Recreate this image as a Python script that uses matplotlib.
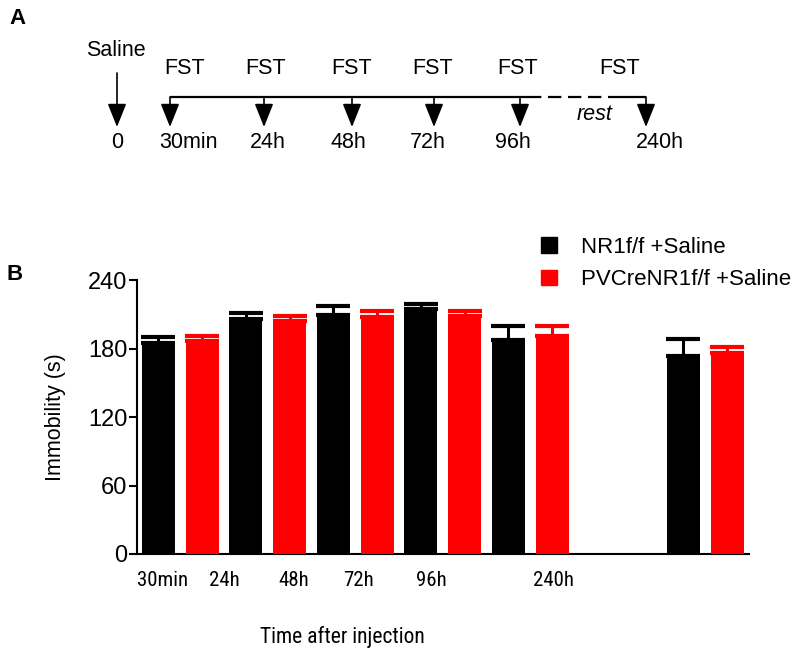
import matplotlib
matplotlib.use('Agg')
import matplotlib.pyplot as plt
from matplotlib.patches import Patch

plt.rcParams['font.family'] = ['Liberation Sans', 'DejaVu Sans']
narrow = ['Liberation Sans Narrow', 'Arial Narrow', 'Roboto Condensed', 'Liberation Sans']

# datos del panel B (segundos de inmovilidad, media y SEM)
timepoints = ['30min', '24h', '48h', '72h', '96h', '240h']
slot = [0, 1, 2, 3, 4, 6]
nr1_mean = [185.0, 205.5, 209.3, 214.3, 187.4, 173.6]
nr1_sem = [5.0, 5.3, 7.9, 4.7, 12.2, 14.9]
pv_mean = [186.8, 204.0, 207.5, 208.7, 190.9, 175.7]
pv_sem = [4.2, 4.4, 5.3, 3.8, 8.7, 5.8]
label_pos = [0.23, 0.94, 1.73, 2.48, 3.31, 4.71]
yticks = [0, 60, 120, 180, 240]

# esquema del panel A (posiciones en pixeles de la figura)
schema_labels = ['30min', '24h', '48h', '72h', '96h', '240h']
schema_arrow_x = [170, 264, 352, 434, 520, 646]
schema_fst_x = [185, 266, 352, 433, 518, 620]
schema_time_x = [188, 268, 348, 428, 513, 660]

W, H = 796, 655
fig = plt.figure(figsize=(W / 100, H / 100), dpi=100)

# capa de fondo en coordenadas de pixel para el esquema
ax0 = fig.add_axes([0, 0, 1, 1])
ax0.set_xlim(0, W)
ax0.set_ylim(H, 0)
ax0.axis('off')

arrow_kw = dict(arrowstyle='-|>,head_length=1.45,head_width=0.58', mutation_scale=10,
                lw=1.2, color='black', shrinkA=0, shrinkB=0)
fs_a = 15.5

ax0.text(116, 51, 'Saline', ha='center', va='center', fontsize=fs_a)
ax0.annotate('', xy=(117, 127), xytext=(117, 73), arrowprops=arrow_kw)
ax0.text(117, 143, '0', ha='center', va='center', fontsize=fs_a)

line_y = 97
ax0.plot([170, 528], [line_y, line_y], color='black', lw=1.6, solid_capstyle='butt')
ax0.plot([528, 617], [line_y, line_y], color='black', lw=1.6, dashes=(6, 3))
ax0.plot([617, 646], [line_y, line_y], color='black', lw=1.6, solid_capstyle='butt')

for x in schema_arrow_x:
    ax0.annotate('', xy=(x, 127), xytext=(x, line_y), arrowprops=arrow_kw)
for x in schema_fst_x:
    ax0.text(x, 68, 'FST', ha='center', va='center', fontsize=fs_a)
for x, lab in zip(schema_time_x, schema_labels):
    ax0.text(x, 143, lab, ha='center', va='center', fontsize=fs_a)
ax0.text(595, 115, 'rest', ha='center', va='center', fontsize=fs_a, style='italic')

ax0.text(17, 18, 'A', ha='center', va='center', fontsize=16, fontweight='bold')
ax0.text(15, 275, 'B', ha='center', va='center', fontsize=16, fontweight='bold')

# panel B: grafico de barras
left, right, top, bottom = 137, 749, 280, 554
ax = fig.add_axes([left / W, 1 - bottom / H, (right - left) / W, (bottom - top) / H])
ax.patch.set_alpha(0)

bw = 0.377
off = 0.503
x_nr1 = [s for s in slot]
x_pv = [s + off for s in slot]

ax.bar(x_nr1, nr1_mean, width=bw, align='edge', color='black', zorder=3)
ax.bar(x_pv, pv_mean, width=bw, align='edge', color='#fe0000', zorder=3)
ax.errorbar([x + bw / 2 for x in x_nr1], nr1_mean, yerr=[[0] * 6, nr1_sem], fmt='none',
            ecolor='black', elinewidth=2.2, capsize=12, capthick=3, zorder=2)
ax.errorbar([x + bw / 2 for x in x_pv], pv_mean, yerr=[[0] * 6, pv_sem], fmt='none',
            ecolor='#fe0000', elinewidth=2.2, capsize=12, capthick=3, zorder=2)

ax.set_xlim(-0.057, 6.94)
ax.set_ylim(0, 240)
ax.set_yticks(yticks)
ax.set_xticks(label_pos)
ax.set_xticklabels(timepoints, family=narrow, fontsize=15)
ax.tick_params(axis='x', length=0, pad=12)
ax.tick_params(axis='y', length=6, width=1.5, labelsize=17, pad=1)
for s in ['top', 'right']:
    ax.spines[s].set_visible(False)
for s in ['left', 'bottom']:
    ax.spines[s].set_linewidth(1.5)

ax.set_ylabel('Immobility (s)', fontsize=15.5, labelpad=16)
fig.text(342 / W, 1 - 637 / H, 'Time after injection', ha='center', va='center',
         fontsize=15.5, family=narrow)

handles = [Patch(color='black', label='NR1f/f +Saline'),
           Patch(color='#fe0000', label='PVCreNR1f/f +Saline')]
fig.legend(handles=handles, loc='upper left', bbox_to_anchor=(541 / W, 1 - 237 / H),
           frameon=False, fontsize=16, handlelength=0.7, handleheight=0.7,
           handletextpad=1.1, labelspacing=0.5, borderpad=0, borderaxespad=0)

plt.savefig('out.png', dpi=100)
